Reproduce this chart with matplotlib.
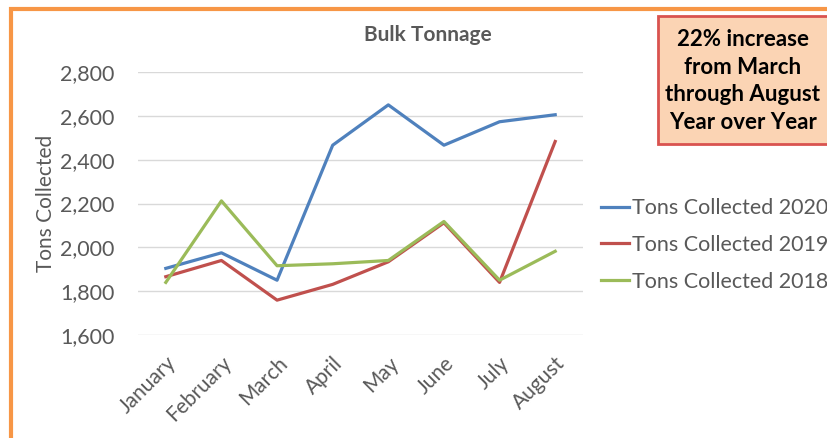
import matplotlib
matplotlib.use("Agg")
import matplotlib.pyplot as plt
from matplotlib.patches import Rectangle

months = ['January', 'February', 'March', 'April', 'May', 'June', 'July', 'August']
tons_2020 = [1904, 1975, 1850, 2466, 2650, 2466, 2573, 2605]
tons_2019 = [1866, 1940, 1759, 1831, 1934, 2112, 1840, 2483]
tons_2018 = [1840, 2212, 1916, 1925, 1940, 2118, 1850, 1982]
yticks = [1600, 1800, 2000, 2200, 2400, 2600, 2800]

plt.rcParams['font.family'] = ['Lato', 'DejaVu Sans']
grey = '#595959'

fig = plt.figure(figsize=(8.28, 4.38), dpi=100)
ax = fig.add_axes([138 / 828, 1 - 335 / 438, 445 / 828, 263 / 438])

x = list(range(len(months)))
l20, = ax.plot(x, tons_2020, color='#4F81BD', lw=2.3, label='Tons Collected 2020')
l19, = ax.plot(x, tons_2019, color='#C0504D', lw=2.3, label='Tons Collected 2019')
l18, = ax.plot(x, tons_2018, color='#9BBB59', lw=2.3, label='Tons Collected 2018')

ax.set_xlim(-0.5, len(months) - 0.5)
ax.set_ylim(1600, 2800)
ax.set_yticks(yticks)
ax.set_yticklabels([f'{v:,}' for v in yticks], fontsize=15.5, color=grey)
ax.set_xticks(x)
ax.set_xticklabels(months, rotation=45, ha='right', rotation_mode='anchor',
                   fontsize=15, color=grey)
ax.tick_params(length=0, axis='both')
ax.tick_params(axis='y', pad=17)
ax.tick_params(axis='x', pad=13)
ax.grid(axis='y', color='#D9D9D9', lw=1)
ax.set_axisbelow(True)
for s in ax.spines.values():
    s.set_visible(False)

ax.set_ylabel('Tons Collected', fontsize=15, color=grey, labelpad=3)
fig.text(428 / 828, 1 - 35 / 438, 'Bulk Tonnage', ha='center', va='center',
         fontsize=15, fontweight='bold', color=grey)

fig.legend(handles=[l20, l19, l18], loc='center left',
           bbox_to_anchor=(601 / 828, 1 - 245 / 438), frameon=False,
           fontsize=15.5, labelcolor=grey, handlelength=1.3, handletextpad=0.15,
           labelspacing=0.78, borderpad=0, borderaxespad=0)

# annotation box
fig.patches.append(Rectangle((658 / 828, 1 - 144 / 438), 175 / 828, 128 / 438,
                             transform=fig.transFigure, facecolor='#FBD4B4',
                             edgecolor='#D9534F', lw=2, zorder=5))
fig.text(743 / 828, 1 - 81 / 438,
         '22% increase\nfrom March\nthrough August\nYear over Year',
         ha='center', va='center', fontsize=16, fontweight='bold',
         color='black', linespacing=1.4, zorder=6)

# orange outer border
fig.patches.append(Rectangle((11 / 828, -0.1), 1.2, 1 - 9 / 438 + 0.1,
                             transform=fig.transFigure, facecolor='none',
                             edgecolor='#F79646', lw=3, zorder=4))

fig.savefig('out.png', dpi=100)
